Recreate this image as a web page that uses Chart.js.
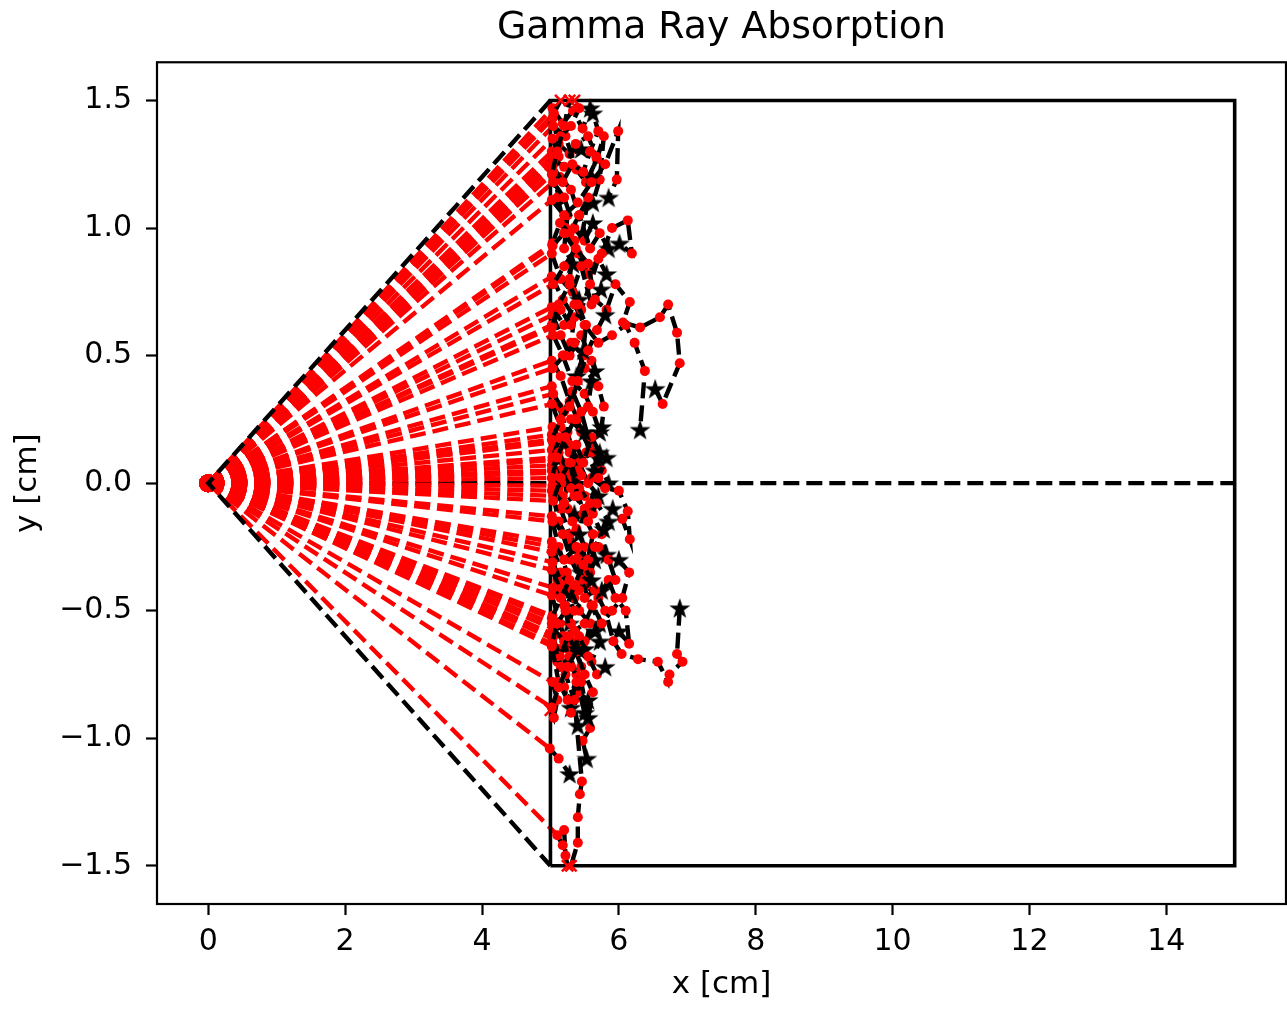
<!DOCTYPE html>
<html><head><meta charset="utf-8">
<script src="https://cdn.jsdelivr.net/npm/chart.js@4.4.0/dist/chart.umd.min.js"></script>
<style>html,body{margin:0;padding:0;background:#fff;overflow:hidden}#wrap{width:1287px;height:1009px}canvas{display:block}</style>
</head><body><div id="wrap"><canvas id="c" width="1287" height="1009"></canvas></div>
<script>
// ---------------- data ----------------
const chartTitle = 'Gamma Ray Absorption';
const xLabel = 'x [cm]';
const yLabel = 'y [cm]';
const xTicks = [0, 2, 4, 6, 8, 10, 12, 14];
const yTicks = [-1.5, -1.0, -0.5, 0.0, 0.5, 1.0, 1.5];
const sourcePoint = [0, 0];
const detectorX = [5, 15, 15, 5, 5];
const detectorY = [-1.5, -1.5, 1.5, 1.5, -1.5];
const coneX = [5, 0, 5];
const coneY = [1.5, 0, -1.5];
const axisLineX = [0, 15];
const axisLineY = [0, 0];
// photon random walks inside the detector (first point = end of incoming ray)
const photonPaths = [
 [[5.03,1.47],[5.18,1.41],[5.33,1.46],[5.47,1.39],[5.58,1.47]],
 [[5.03,1.43],[5.12,1.33],[5.28,1.29],[5.45,1.31]],
 [[5.04,1.40],[5.22,1.36],[5.38,1.23],[5.52,1.18],[5.68,1.27],[5.78,1.36],[5.72,1.19],[5.62,1.10]],
 [[5.05,1.45],[5.15,1.50]],
 [[5.03,1.35],[5.12,1.28],[5.00,1.25]],
 [[5.02,1.30],[5.14,1.20],[5.30,1.15],[5.42,1.05],[5.55,1.12],[5.47,0.98]],
 [[5.03,1.28],[5.15,1.36],[5.30,1.40],[5.42,1.47],[5.35,1.50]],
 [[5.05,1.27],[5.20,1.24],[5.37,1.33],[5.55,1.36],[5.67,1.28],[5.60,1.20]],
 [[5.02,1.25],[5.18,1.18],[5.32,1.25],[5.48,1.22],[5.58,1.30],[5.70,1.38],[5.62,1.45]],
 [[5.03,1.24],[5.12,1.12],[5.25,1.05],[5.20,0.92],[5.33,0.86]],
 [[5.04,1.22],[5.10,1.12],[5.22,1.00],[5.35,0.95],[5.28,0.80],[5.42,0.72]],
 [[5.02,1.21],[5.10,1.30],[5.20,1.40],[5.28,1.50]],
 [[5.04,1.18],[5.20,1.12],[5.35,1.00],[5.50,0.95],[5.62,1.02]],
 [[5.02,1.11],[5.20,1.05],[5.40,1.10],[5.60,1.18],[5.80,1.25],[5.99,1.38],[5.97,1.19],[5.85,1.12]],
 [[5.03,0.94],[5.14,1.02],[5.28,0.98],[5.42,1.05],[5.58,0.92],[5.72,0.98],[5.85,0.92]],
 [[5.03,0.93],[5.20,0.98],[5.40,0.90],[5.55,0.82],[5.75,0.90],[5.90,1.00],[6.13,1.03],[6.19,0.90],[6.01,0.94]],
 [[5.02,0.90],[5.15,0.80],[5.32,0.75],[5.45,0.85],[5.60,0.70],[5.74,0.76]],
 [[5.02,0.81],[5.18,0.72],[5.35,0.65],[5.30,0.55],[5.48,0.50],[5.38,0.42]],
 [[5.04,0.78],[5.20,0.85],[5.37,0.92],[5.55,0.86],[5.65,0.72],[5.82,0.68],[5.95,0.78],[6.16,0.71],[6.06,0.63],[6.31,0.61],[6.60,0.65],[6.72,0.70],[6.85,0.59],[6.89,0.47],[6.64,0.31],[6.53,0.37]],
 [[5.02,0.69],[5.20,0.62],[5.35,0.70],[5.50,0.62],[5.70,0.55],[5.90,0.58],[6.10,0.62],[6.23,0.55],[6.38,0.44],[6.31,0.21]],
 [[5.03,0.66],[5.15,0.58],[5.28,0.50],[5.45,0.58],[5.60,0.48],[5.65,0.44]],
 [[5.02,0.62],[5.15,0.68],[5.30,0.62],[5.45,0.68],[5.58,0.78],[5.70,0.88],[5.82,0.82]],
 [[5.02,0.61],[5.12,0.70],[5.28,0.78],[5.40,0.70],[5.52,0.62],[5.48,0.52]],
 [[5.04,0.58],[5.18,0.50],[5.32,0.40],[5.50,0.35],[5.62,0.28],[5.72,0.20]],
 [[5.02,0.48],[5.15,0.42],[5.28,0.32],[5.40,0.25],[5.55,0.30],[5.60,0.40]],
 [[5.03,0.45],[5.20,0.50],[5.35,0.55],[5.50,0.45],[5.70,0.38],[5.78,0.30],[5.75,0.22]],
 [[5.02,0.38],[5.12,0.30],[5.25,0.20],[5.35,0.10],[5.30,0.02]],
 [[5.04,0.35],[5.20,0.28],[5.32,0.36],[5.45,0.28],[5.58,0.15],[5.70,0.10]],
 [[5.02,0.31],[5.15,0.22],[5.28,0.15],[5.42,0.08],[5.55,0.00],[5.70,-0.05]],
 [[5.03,0.22],[5.18,0.15],[5.30,0.25],[5.45,0.20],[5.60,0.12],[5.75,0.05],[5.85,0.00]],
 [[5.02,0.19],[5.12,0.10],[5.25,0.02],[5.20,-0.08],[5.35,-0.12]],
 [[5.02,0.17],[5.15,0.25],[5.28,0.30],[5.40,0.40],[5.55,0.52],[5.68,0.60],[5.80,0.66]],
 [[5.04,0.16],[5.20,0.08],[5.38,0.02],[5.50,-0.05],[5.62,-0.12],[5.75,-0.20],[5.82,-0.28]],
 [[5.02,0.13],[5.15,0.05],[5.30,-0.02],[5.45,0.03],[5.60,0.02],[5.80,-0.02],[6.00,-0.03],[6.13,-0.11],[6.16,-0.22],[6.05,-0.14],[5.91,-0.10]],
 [[5.03,0.10],[5.14,0.18],[5.28,0.12],[5.40,0.05],[5.52,0.12],[5.65,0.05]],
 [[5.03,0.09],[5.16,0.00],[5.30,0.08],[5.42,-0.02],[5.58,-0.08],[5.70,0.02],[5.82,0.10]],
 [[5.02,0.07],[5.12,-0.02],[5.25,-0.10],[5.38,-0.18],[5.50,-0.25],[5.45,-0.35]],
 [[5.02,0.05],[5.12,0.12],[5.25,0.05],[5.38,0.15],[5.48,0.08],[5.60,0.18],[5.72,0.12]],
 [[5.04,0.04],[5.18,-0.05],[5.32,-0.15],[5.48,-0.12],[5.62,-0.20],[5.55,-0.30]],
 [[5.02,0.02],[5.10,0.10],[5.22,0.18],[5.36,0.25],[5.50,0.20]],
 [[5.03,-0.01],[5.15,-0.10],[5.28,-0.20],[5.42,-0.28],[5.58,-0.35],[5.65,-0.30]],
 [[5.02,-0.03],[5.20,-0.08],[5.35,-0.05],[5.50,-0.10],[5.42,-0.20]],
 [[5.04,-0.05],[5.12,-0.15],[5.25,-0.22],[5.38,-0.30],[5.52,-0.40],[5.70,-0.45],[5.85,-0.38],[5.95,-0.45],[6.10,-0.50],[6.15,-0.63],[6.00,-0.58]],
 [[5.04,-0.07],[5.15,0.02],[5.28,0.08],[5.40,-0.05],[5.55,-0.15],[5.68,-0.08],[5.85,-0.15]],
 [[5.02,-0.13],[5.18,-0.20],[5.30,-0.30],[5.45,-0.38],[5.60,-0.48],[5.72,-0.55]],
 [[5.03,-0.15],[5.12,-0.25],[5.24,-0.35],[5.35,-0.45],[5.28,-0.55]],
 [[5.02,-0.23],[5.20,-0.30],[5.38,-0.25],[5.55,-0.30],[5.70,-0.25],[5.85,-0.30],[5.95,-0.38],[5.75,-0.42]],
 [[5.04,-0.25],[5.15,-0.35],[5.30,-0.42],[5.42,-0.50],[5.58,-0.55],[5.50,-0.65]],
 [[5.02,-0.27],[5.10,-0.38],[5.22,-0.48],[5.36,-0.58],[5.50,-0.62],[5.65,-0.58]],
 [[5.03,-0.31],[5.18,-0.40],[5.35,-0.50],[5.50,-0.45],[5.65,-0.42],[5.80,-0.50],[5.92,-0.62],[6.04,-0.67],[6.28,-0.69],[6.57,-0.70],[6.72,-0.78],[6.74,-0.75],[6.93,-0.70],[6.85,-0.67],[6.89,-0.49]],
 [[5.02,-0.34],[5.15,-0.42],[5.30,-0.55],[5.45,-0.62],[5.60,-0.70],[5.72,-0.62]],
 [[5.04,-0.41],[5.20,-0.48],[5.32,-0.62],[5.45,-0.72],[5.40,-0.82],[5.55,-0.85]],
 [[5.02,-0.44],[5.14,-0.55],[5.25,-0.65],[5.38,-0.75],[5.30,-0.88]],
 [[5.03,-0.52],[5.18,-0.60],[5.30,-0.72],[5.45,-0.78],[5.58,-0.96],[5.47,-1.01],[5.53,-1.08]],
 [[5.02,-0.53],[5.15,-0.45],[5.28,-0.38],[5.42,-0.42],[5.55,-0.35],[5.65,-0.25],[5.78,-0.18]],
 [[5.02,-0.55],[5.12,-0.65],[5.22,-0.75],[5.35,-0.85],[5.46,-1.17],[5.43,-1.22],[5.40,-1.31],[5.40,-1.41],[5.30,-1.50]],
 [[5.04,-0.57],[5.20,-0.62],[5.35,-0.58],[5.50,-0.55],[5.62,-0.48],[5.75,-0.55],[5.90,-0.50],[6.05,-0.45],[6.15,-0.35],[6.00,-0.30]],
 [[5.02,-0.59],[5.10,-0.70],[5.20,-0.80],[5.30,-0.90],[5.40,-0.95]],
 [[5.03,-0.60],[5.14,-0.68],[5.26,-0.60],[5.38,-0.66],[5.50,-0.75],[5.62,-0.82],[5.55,-0.92]],
 [[5.03,-0.61],[5.15,-0.72],[5.28,-0.68],[5.42,-0.60],[5.55,-0.68],[5.68,-0.75],[5.80,-0.72]],
 [[5.02,-0.63],[5.10,-0.55],[5.22,-0.50],[5.35,-0.40],[5.48,-0.32],[5.60,-0.38]],
 [[5.02,-0.64],[5.12,-0.78],[5.25,-0.85],[5.38,-0.78],[5.50,-0.90]],
 [[5.03,-0.78],[5.10,-0.85],[5.05,-0.92],[5.00,-0.89]],
 [[5.02,-0.88],[5.12,-0.80],[5.25,-0.72],[5.40,-0.65]],
 [[4.99,-1.04],[5.12,-1.08],[5.28,-1.14]],
 [[5.10,-1.38],[5.18,-1.42],[5.20,-1.36],[5.22,-1.46],[5.25,-1.50]]
];

// ---------------- helpers ----------------
const FONT = 'DejaVu Sans';
const LW = 4.4;
const DASH = [16, 7];
function pts(xs, ys) { return xs.map((x, i) => ({x: x, y: ys[i]})); }
function makeStar(size, color) {
  const c = document.createElement('canvas');
  c.width = size; c.height = size;
  const g = c.getContext('2d');
  g.fillStyle = color;
  g.beginPath();
  const cx = size / 2, cy = size / 2 + size * 0.04, R = size / 2, r = R * 0.39;
  for (let i = 0; i < 10; i++) {
    const a = -Math.PI / 2 + i * Math.PI / 5;
    const rad = i % 2 ? r : R;
    g.lineTo(cx + rad * Math.cos(a), cy + rad * Math.sin(a));
  }
  g.closePath();
  g.fill();
  return c;
}
const starImg = makeStar(22, '#000');

const datasets = [];
// horizontal axis line
datasets.push({data: pts(axisLineX, axisLineY), showLine: true, borderColor: '#000', borderWidth: LW, borderDash: DASH, pointRadius: 0});
// incoming rays (source -> first interaction point)
photonPaths.forEach(p => {
  datasets.push({data: [{x: sourcePoint[0], y: sourcePoint[1]}, {x: p[0][0], y: p[0][1]}], showLine: true,
    borderColor: '#ff0000', borderWidth: LW, borderDash: DASH,
    pointRadius: c => c.dataIndex === 0 ? 9 : 0, pointBackgroundColor: '#ff0000', pointBorderWidth: 0});
});
// cone edges
datasets.push({data: pts(coneX, coneY), showLine: true, borderColor: '#000', borderWidth: LW, borderDash: DASH, pointRadius: 0});
// detector
datasets.push({data: pts(detectorX, detectorY), showLine: true, borderColor: '#000', borderWidth: 3.6, pointRadius: 0, borderJoinStyle: 'miter'});
// random walks, each followed by its end marker (star = absorbed, x = escaped)
photonPaths.forEach(p => {
  const n = p.length;
  datasets.push({data: p.map(q => ({x: q[0], y: q[1]})), showLine: true,
    borderColor: '#000', borderWidth: LW, borderDash: DASH,
    pointRadius: c => c.dataIndex === n - 1 ? 0 : 5, pointBackgroundColor: '#ff0000', pointBorderWidth: 0});
  const last = p[n - 1];
  const escaped = last[0] <= 5.0 || Math.abs(last[1]) >= 1.5;
  if (escaped) {
    datasets.push({data: [{x: last[0], y: last[1]}], showLine: false, pointStyle: 'crossRot', pointRadius: 8,
      borderColor: '#ff0000', pointBorderColor: '#ff0000', pointBorderWidth: 2.5});
  } else {
    datasets.push({data: [{x: last[0], y: last[1]}], showLine: false, pointStyle: starImg, pointRadius: 11});
  }
});
datasets.forEach((d, i) => { d.order = -i; d.pointHoverRadius = 0; });

const framePlugin = {
  id: 'frame',
  afterDatasetsDraw(chart) {
    const {ctx, chartArea: a} = chart;
    ctx.save();
    ctx.strokeStyle = '#000';
    ctx.lineWidth = 2.2;
    ctx.strokeRect(a.left, a.top, a.right - a.left, a.bottom - a.top);
    ctx.restore();
  }
};
const fmtY = v => (v < 0 ? '\u2212' : '') + Math.abs(v).toFixed(1);

new Chart(document.getElementById('c'), {
  type: 'scatter',
  data: {datasets: datasets},
  options: {
    responsive: false,
    animation: false,
    devicePixelRatio: 1,
    layout: {autoPadding: false, padding: {left: 0, right: 1, top: 0, bottom: 0}},
    plugins: {
      legend: {display: false},
      tooltip: {enabled: false},
      title: {display: true, text: chartTitle, fullSize: false, color: '#000',
        font: {family: FONT, size: 37.8, weight: 'normal'}, padding: {top: 5.5, bottom: 11.4}}
    },
    scales: {
      x: {
        type: 'linear', min: -0.75, max: 15.75,
        afterBuildTicks: ax => { ax.ticks = xTicks.map(v => ({value: v})); },
        afterFit: s => { s.height = 105; s.paddingLeft = 0; s.paddingRight = 0; },
        ticks: {color: '#000', font: {family: FONT, size: 30}, padding: 9, maxRotation: 0, autoSkip: false,
          callback: v => String(v)},
        grid: {drawOnChartArea: false, drawTicks: true, tickLength: 11, tickWidth: 2.2, tickColor: '#000', color: '#000'},
        border: {display: false},
        title: {display: true, text: xLabel, color: '#000', font: {family: FONT, size: 31}, padding: {top: 0, bottom: 5}}
      },
      y: {
        type: 'linear', min: -1.65, max: 1.65,
        afterBuildTicks: ax => { ax.ticks = yTicks.map(v => ({value: v})); },
        afterFit: s => { s.width = 157; s.paddingTop = 0; s.paddingBottom = 0; },
        ticks: {color: '#000', font: {family: FONT, size: 30}, padding: 14, autoSkip: false,
          callback: v => fmtY(v)},
        grid: {drawOnChartArea: false, drawTicks: true, tickLength: 11, tickWidth: 2.2, tickColor: '#000', color: '#000'},
        border: {display: false},
        title: {display: true, text: yLabel, color: '#000', font: {family: FONT, size: 31}, padding: {top: 9, bottom: 0}}
      }
    }
  },
  plugins: [framePlugin]
});
</script></body></html>
